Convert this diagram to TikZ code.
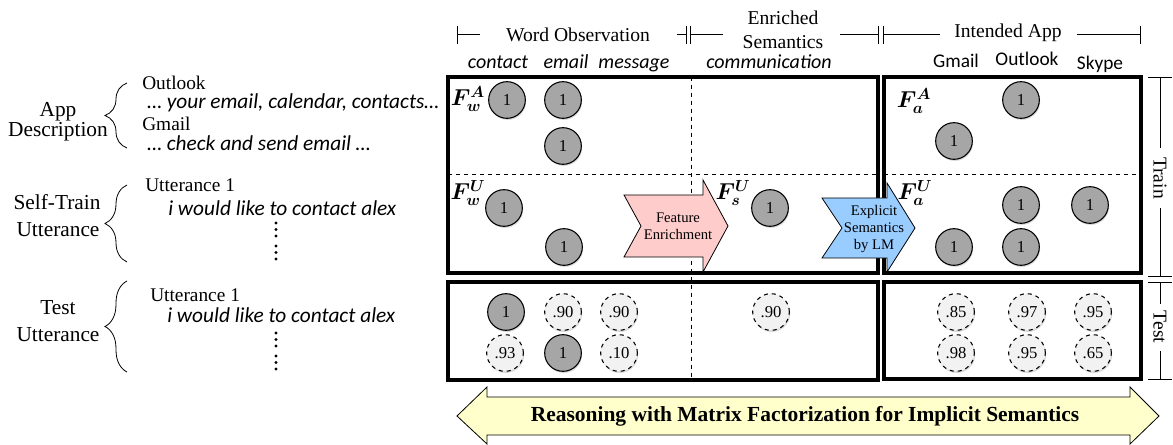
\documentclass[tikz,border=0pt]{standalone}
\usepackage{fontspec}
\setmainfont{Liberation Serif}
\newfontfamily\calib{Carlito}
\usepackage{amsmath,bm}
\usetikzlibrary{shadows,decorations.pathreplacing}
\definecolor{circgray}{RGB}{166,166,166}
\definecolor{lightc}{RGB}{242,242,242}
\definecolor{pinkar}{RGB}{255,204,204}
\definecolor{bluear}{RGB}{153,204,255}
\definecolor{yellar}{RGB}{255,255,204}
\tikzset{
  obs/.style={circle, draw=black, line width=0.8pt, fill=circgray, minimum size=27.5pt, inner sep=0pt,
    font=\fontsize{12.5}{12.5}\selectfont, drop shadow={opacity=0.3, shadow xshift=0.6pt, shadow yshift=-1.2pt}},
  est/.style={obs, dashed, fill=lightc},
  bigbox/.style={draw, line width=2.6pt},
  sepline/.style={dashed, line width=0.6pt},
  hdr/.style={font=\fontsize{14.7}{17}\selectfont, inner sep=0pt},
  colit/.style={font=\fontsize{15}{16}\calib\itshape, anchor=base, inner sep=0pt},
  colup/.style={font=\fontsize{14.5}{16}\calib, anchor=base, inner sep=0pt},
  rowlab/.style={font=\fontsize{16}{18}\selectfont, inner sep=0pt},
  srcname/.style={font=\fontsize{14.5}{16}\selectfont, anchor=west, inner sep=0pt},
  srctext/.style={font=\fontsize{16}{17}\calib\itshape, anchor=west, inner sep=0pt},
  flab/.style={font=\fontsize{16.5}{17}\selectfont, inner sep=0pt},
  tick/.style={line width=0.6pt},
  brc/.style={decorate, decoration={brace, amplitude=22*0.75pt}, line width=0.6pt},
  arrowshape/.style={draw, line width=0.6pt},
  arrtext/.style={font=\fontsize{11}{13}\selectfont, align=center, inner sep=0pt},
  dotmark/.style={fill=black, draw=none}
}
\begin{document}
\begin{tikzpicture}[x=0.75pt, y=-0.75pt]
\useasboundingbox (0,0) rectangle (1173,445);

% header
\draw[tick] (457,26) -- (457,44) (457,34) -- (480,34);
\node[hdr] (hwo) at (578,35) {Word Observation};
\draw[tick] (677,34) -- (686,34) (686,26) -- (686,44) (690,26) -- (690,44) (690,34) -- (723,34);
\node[hdr] (hen1) at (783,18) {Enriched};
\node[hdr] (hen2) at (783,42) {Semantics};
\draw[tick] (840,34) -- (878,34) (878,26) -- (878,44) (883,26) -- (883,44) (883,34) -- (940,34);
\node[hdr] (hia) at (1008,33) {Intended App};
\draw[tick] (1077,34) -- (1140,34) (1140,26) -- (1140,44);

% column labels
\node[colit] (c1) at (498,69) {contact};
\node[colit] (c2) at (566,69) {email};
\node[colit] (c3) at (634,69) {message};
\node[colit] (c4) at (769,69) {communication};
\node[colup] (c5) at (956,68) {Gmail};
\node[colup] (c6) at (1027,66) {Outlook};
\node[colup] (c7) at (1100,70) {Skype};

% boxes
\draw[bigbox] (448,77) rectangle (878,273);
\draw[bigbox] (884,77) rectangle (1141,273);
\draw[bigbox] (448,282) rectangle (878,380);
\draw[bigbox] (884,282) rectangle (1141,379);
\draw[sepline] (691,77) -- (691,380);
\draw[sepline] (448,174) -- (878,174);
\draw[sepline] (884,174) -- (1141,174);

% arrows
\draw[arrowshape, fill=pinkar] (624,195) -- (703,195) -- (703,180) -- (728,226) -- (703,272) -- (703,257) -- (624,257) -- (641,226) -- cycle;
\node[arrtext] (fe) at (678,226) {Feature\\Enrichment};
\draw[arrowshape, fill=bluear] (822,198) -- (887,198) -- (887,183) -- (915,228) -- (887,272) -- (887,258) -- (822,258) -- (842,228) -- cycle;
\node[arrtext] (es) at (874,229) {Explicit\\Semantics\\by LM};
\draw[arrowshape, fill=yellar] (457,416) -- (487,387) -- (487,397) -- (1130,397) -- (1130,387) -- (1159,416) -- (1130,444) -- (1130,435) -- (487,435) -- (487,444) -- cycle;
\node[font=\fontsize{16.1}{17}\selectfont\bfseries, inner sep=0pt] (rs) at (805,416) {Reasoning with Matrix Factorization for Implicit Semantics};

% F labels
\node[flab] (fwa) at (468,99) {$\bm{F}^{\bm{A}}_{\bm{w}}$};
\node[flab] (fwu) at (468,193) {$\bm{F}^{\bm{U}}_{\bm{w}}$};
\node[flab] (fsu) at (733,193) {$\bm{F}^{\bm{U}}_{\bm{s}}$};
\node[flab] (faa) at (914,101) {$\bm{F}^{\bm{A}}_{\bm{a}}$};
\node[flab] (fau) at (915,193) {$\bm{F}^{\bm{U}}_{\bm{a}}$};

% train circles
\node[obs] (a1) at (507,100) {1};
\node[obs] (a2) at (563,100) {1};
\node[obs] (a3) at (563,146) {1};
\node[obs] (u1) at (504,208) {1};
\node[obs] (u2) at (564,247) {1};
\node[obs] (s1) at (770,208) {1};
\node[obs] (p1) at (1021,100) {1};
\node[obs] (p2) at (954,141) {1};
\node[obs] (q1) at (1021,205) {1};
\node[obs] (q2) at (1090,205) {1};
\node[obs] (q3) at (954,247) {1};
\node[obs] (q4) at (1021,247) {1};
% test circles
\node[obs] (t1) at (506,312) {1};
\node[est] (t2) at (563,312) {.90};
\node[est] (t3) at (619,312) {.90};
\node[est] (t4) at (505,353) {.93};
\node[obs] (t5) at (563,353) {1};
\node[est] (t6) at (619,353) {.10};
\node[est] (t7) at (771,312) {.90};
\node[est] (r1) at (956,312) {.85};
\node[est] (r2) at (1027,312) {.97};
\node[est] (r3) at (1093,312) {.95};
\node[est] (r4) at (956,353) {.98};
\node[est] (r5) at (1027,353) {.95};
\node[est] (r6) at (1093,353) {.65};

% train/test bracket
\coordinate (trT) at (1160,77);
\coordinate (trB) at (1160,276);
\coordinate (teT) at (1160,282);
\coordinate (teB) at (1160,379);
\draw[tick] (1148,77) -- (1172,77) (1148,276) -- (1172,276) (1148,282) -- (1172,282) (1148,379) -- (1172,379);
\draw[tick] (trT) -- (1160,148) (1160,208) -- (trB);
\node[hdr, rotate=-90] (trn) at (1160,178) {Train};
\draw[tick] (teT) -- (1160,304) (1160,351) -- (teB);
\node[hdr, rotate=-90] (tst) at (1160,327) {Test};

% left labels
\node[rowlab] (l1) at (58,112) {App};
\node[rowlab] (l2) at (58,132) {Description};
\node[rowlab] (l3) at (57,202) {Self-Train};
\node[rowlab] (l4) at (58,230) {Utterance};
\node[rowlab] (l5) at (58,308) {Test};
\node[rowlab] (l6) at (58,335) {Utterance};
\draw[brc] (127,148) -- (127,83);
\draw[brc] (127,262) -- (127,185);
\draw[brc] (127,372) -- (127,281);

\node[srcname] (o1) at (142,83) {Outlook};
\node[srctext] (o2) at (147,103) {\dots{} your email, calendar, contacts\dots};
\node[srcname] (g1) at (142,123.5) {Gmail};
\node[srctext] (g2) at (147,143) {\dots{} check and send email \dots};
\node[srcname] (s1u) at (145,185) {Utterance 1};
\node[srctext] (s1t) at (168,208) {i would like to contact alex};
\node[srcname] (t1u) at (150,295) {Utterance 1};
\node[srctext] (t1t) at (167,315) {i would like to contact alex};
\foreach \yy in {223,229.5,236, 246,252.5,259, 333,339.5,346, 356,362.5,369}
  \fill[dotmark] (276,\yy) circle (1.6);
\end{tikzpicture}
\end{document}
